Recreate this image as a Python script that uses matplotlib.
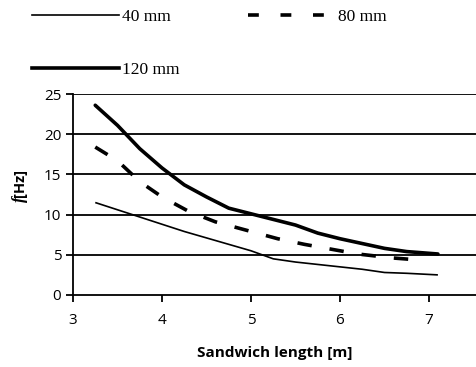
import matplotlib
matplotlib.use("Agg")
import matplotlib.pyplot as plt
from matplotlib.lines import Line2D

x40 = [3.25, 3.5, 3.75, 4.0, 4.25, 4.5, 4.75, 5.0, 5.25, 5.5, 5.75, 6.0, 6.25, 6.5, 6.75, 7.1]
y40 = [11.5, 10.6, 9.7, 8.8, 7.9, 7.1, 6.3, 5.5, 4.5, 4.1, 3.8, 3.5, 3.2, 2.8, 2.7, 2.5]

x80 = [3.25, 3.5, 3.75, 4.0, 4.3, 4.6, 5.0, 5.3, 5.6, 5.9, 6.2, 6.6, 6.95]
y80 = [18.4, 16.7, 14.1, 12.2, 10.4, 9.1, 7.9, 7.0, 6.3, 5.7, 5.1, 4.6, 4.3]

x120 = [3.25, 3.5, 3.75, 4.0, 4.25, 4.5, 4.75, 5.0, 5.25, 5.5, 5.75, 6.0, 6.25, 6.5, 6.75, 7.1]
y120 = [23.6, 21.1, 18.2, 15.8, 13.7, 12.2, 10.8, 10.1, 9.4, 8.7, 7.7, 7.0, 6.4, 5.8, 5.4, 5.1]

labels = ["40 mm", "80 mm", "120 mm"]
xticks = [3, 4, 5, 6, 7]
yticks = [0, 5, 10, 15, 20, 25]

fig = plt.figure(figsize=(4.76, 3.67), dpi=100)
ax = fig.add_axes([73/476, 72/367, 1 - 73/476, (295-94)/367])

ax.plot(x40, y40, color="black", lw=1.2, solid_capstyle="butt")
ax.plot(x80, y80, color="black", lw=2.6, dashes=(4, 5), solid_capstyle="butt")
ax.plot(x120, y120, color="black", lw=2.6, solid_capstyle="round")

ax.set_xlim(3, 3 + (476-73)/89.0)
ax.set_ylim(0, 25)
ax.set_xticks(xticks)
ax.set_yticks(yticks)
for yv in yticks[1:]:
    ax.axhline(yv, color="black", lw=1.3, zorder=0)
for s in ["top", "right"]:
    ax.spines[s].set_visible(False)
ax.spines["left"].set_linewidth(1.3)
ax.spines["bottom"].set_linewidth(1.3)
ax.tick_params(axis="both", direction="out", width=1.3, length=5, labelsize=11, colors="black")
ax.tick_params(axis="x", pad=8)
for lab in ax.get_xticklabels() + ax.get_yticklabels():
    lab.set_family("Open Sans")

ax.set_xlabel("Sandwich length [m]", fontsize=11, fontweight="bold", family="Open Sans", labelpad=13)
fig.text(0.042, (367-197)/367, "[Hz]", rotation=90, fontsize=10.5, fontweight="bold",
         family="Open Sans", ha="center", va="bottom")
fig.text(0.042, (367-197)/367, "f", rotation=90, fontsize=12, fontweight="bold",
         style="italic", family="Liberation Serif", ha="center", va="top")

handles = [
    Line2D([], [], color="black", lw=1.2),
    Line2D([], [], color="black", lw=2.6, dashes=(3, 6)),
    Line2D([], [], color="black", lw=2.6),
]
leg = fig.legend(handles=[handles[0], handles[2], handles[1]],
                 labels=[labels[0], labels[2], labels[1]],
                 ncol=2, loc="upper left", bbox_to_anchor=(0.034, 1.019),
                 frameon=False, handlelength=5.0, handletextpad=0.2,
                 labelspacing=2.15, columnspacing=3.95,
                 prop={"family": "Liberation Serif", "size": 12.5})

fig.savefig("out.png", dpi=100)
